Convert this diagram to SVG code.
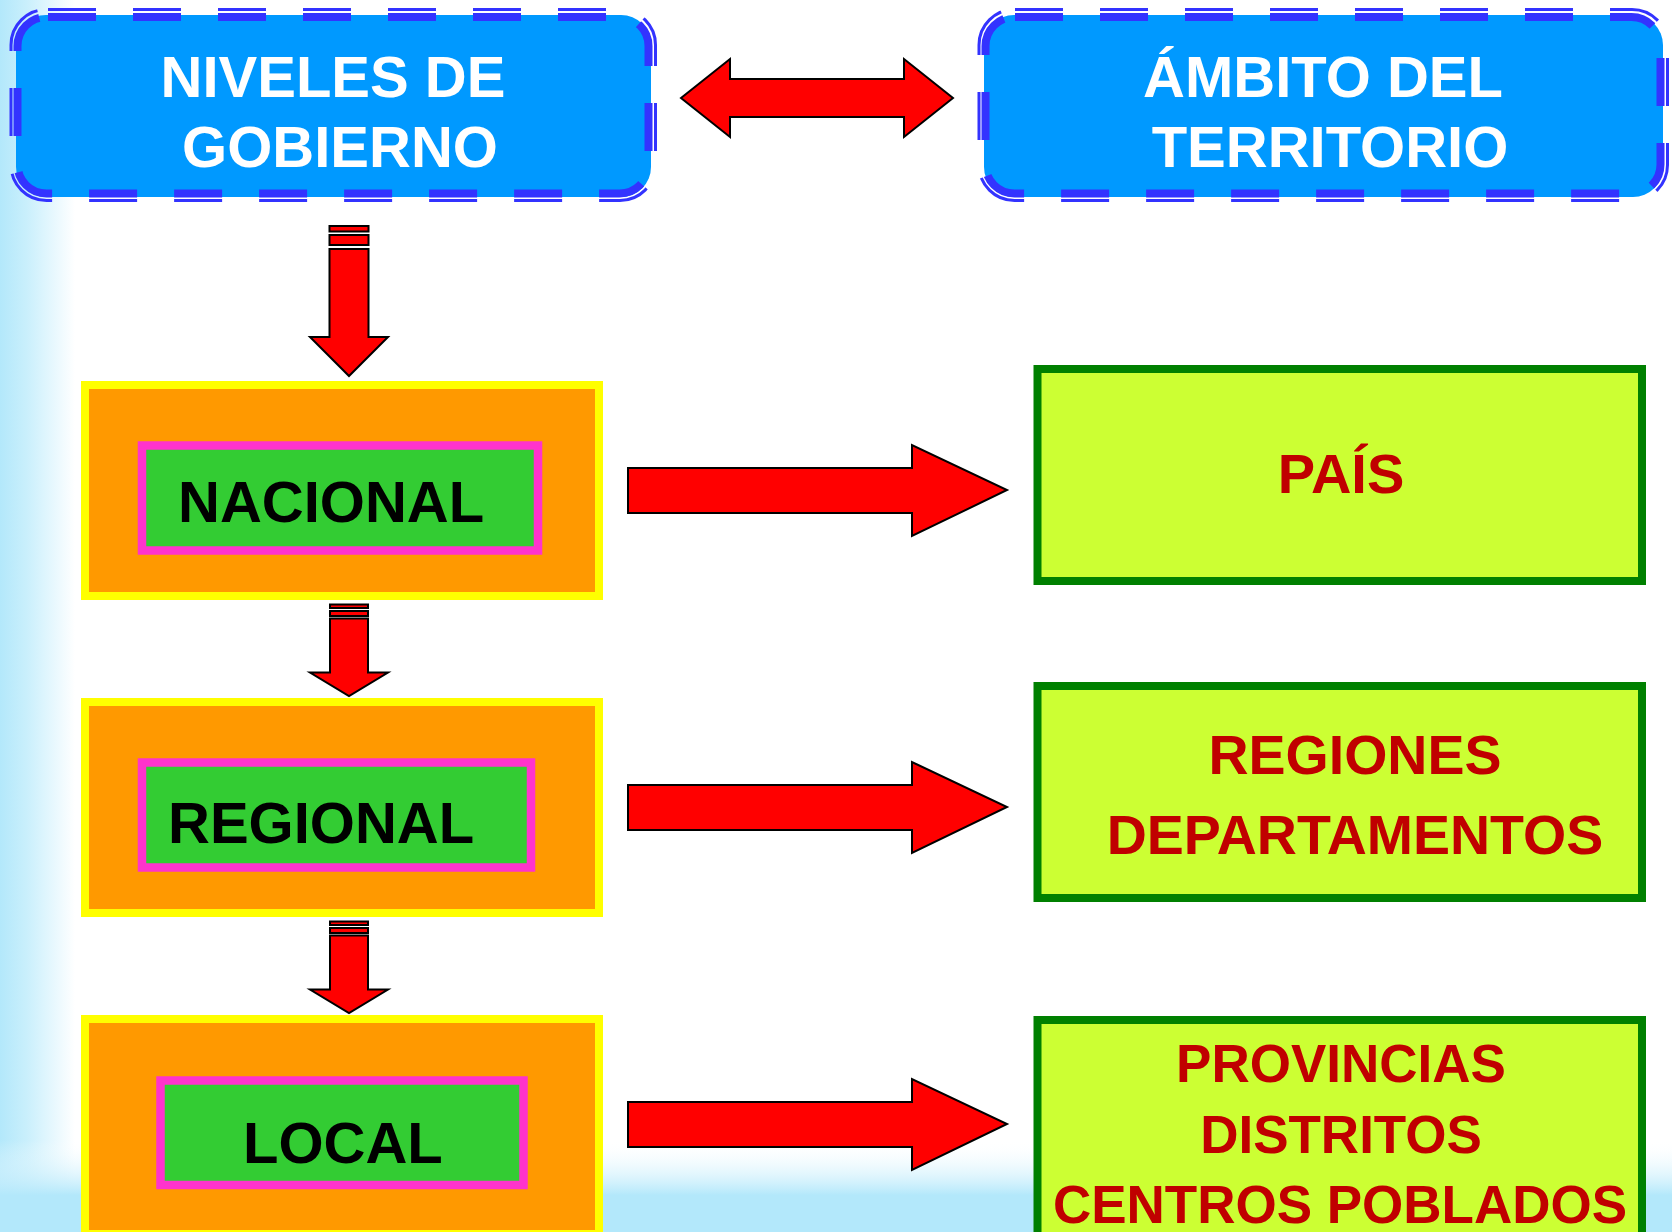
<svg xmlns="http://www.w3.org/2000/svg" width="1672" height="1232" viewBox="0 0 1672 1232">
<defs>
<linearGradient id="bgL" x1="0" y1="0" x2="1" y2="0">
<stop offset="0" stop-color="#b3e8fb"/>
<stop offset="0.35" stop-color="#c9effc"/>
<stop offset="1" stop-color="#ffffff"/>
</linearGradient>
<linearGradient id="bgB" x1="0" y1="0" x2="0" y2="1">
<stop offset="0" stop-color="#ffffff" stop-opacity="0"/>
<stop offset="0.6" stop-color="#b3e8fb"/>
<stop offset="1" stop-color="#b3e8fb"/>
</linearGradient>
<mask id="mL" maskUnits="userSpaceOnUse" x="0" y="0" width="1672" height="1232">
<rect x="14.25" y="13.25" width="637.75" height="183.75" rx="32" fill="none" stroke="#ffffff" stroke-width="18" stroke-dasharray="48 37" stroke-dashoffset="-1.75"/>
</mask>
<mask id="mR" maskUnits="userSpaceOnUse" x="0" y="0" width="1672" height="1232">
<rect x="982.25" y="13.25" width="681.75" height="183.75" rx="32" fill="none" stroke="#ffffff" stroke-width="18" stroke-dasharray="48 37" stroke-dashoffset="-0.75"/>
</mask>
<style>
.hdr{fill:#0099ff}
.dk{fill:none;stroke:#3333ff;stroke-width:8}
.dt{fill:none;stroke:#3333ff;stroke-width:3}
.ht{font-family:"Liberation Sans",Arial,sans-serif;font-weight:bold;font-size:58px;fill:#ffffff;text-anchor:middle}
.or{fill:#ff9900;stroke:#ffff00;stroke-width:8}
.gr{fill:#33cc33;stroke:#ff33cc;stroke-width:8.5}
.lt{font-family:"Liberation Sans",Arial,sans-serif;font-weight:bold;font-size:58px;fill:#000000}
.lm{fill:#ccff33;stroke:#008000;stroke-width:8}
.rt{font-family:"Liberation Sans",Arial,sans-serif;font-weight:bold;font-size:55.5px;fill:#c00000;text-anchor:middle}
.ar{fill:#ff0000;stroke:#000000;stroke-width:2;stroke-linejoin:miter}
</style>
</defs>
<rect x="0" y="0" width="1672" height="1232" fill="#ffffff"/>
<rect x="0" y="0" width="75" height="1232" fill="url(#bgL)"/>
<rect x="0" y="1140" width="1672" height="92" fill="url(#bgB)"/>

<g id="niveles">
<rect class="hdr" x="16" y="15" width="635" height="182" rx="30"/>
<g mask="url(#mL)">
<rect class="dt" x="11" y="9.5" width="644.5" height="191" rx="35.5"/>
<rect class="dk" x="17.5" y="17" width="631" height="176.5" rx="29"/>
</g>
<text class="ht" x="333" y="97">NIVELES DE</text>
<text class="ht" x="340" y="167">GOBIERNO</text>
</g>

<g id="ambito">
<rect class="hdr" x="984" y="15" width="679" height="182" rx="30"/>
<g mask="url(#mR)">
<rect class="dt" x="979" y="9.5" width="688.5" height="191" rx="35.5"/>
<rect class="dk" x="985.5" y="17" width="675" height="176.5" rx="29"/>
</g>
<text class="ht" x="1323" y="97">ÁMBITO DEL</text>
<text class="ht" x="1330" y="167">TERRITORIO</text>
</g>

<g id="nacional">
<rect class="or" x="85" y="385" width="514" height="211"/>
<rect class="gr" x="142" y="445.5" width="396" height="105"/>
<text class="lt" x="178" y="521.5">NACIONAL</text>
</g>

<g id="regional">
<rect class="or" x="85" y="702" width="514" height="211"/>
<rect class="gr" x="142" y="762.5" width="389" height="105"/>
<text class="lt" x="168" y="843">REGIONAL</text>
</g>

<g id="local">
<rect class="or" x="85" y="1019" width="514" height="215"/>
<rect class="gr" x="160.5" y="1080.5" width="363" height="104.5"/>
<text class="lt" x="243" y="1162.5">LOCAL</text>
</g>

<g id="pais">
<rect class="lm" x="1037.5" y="369" width="604.5" height="212"/>
<text class="rt" x="1341" y="492.5" style="font-size:56px">PAÍS</text>
</g>

<g id="regiones">
<rect class="lm" x="1037.5" y="686" width="604.5" height="212"/>
<text class="rt" x="1355" y="774">REGIONES</text>
<text class="rt" x="1355" y="854">DEPARTAMENTOS</text>
</g>

<g id="provincias">
<rect class="lm" x="1037.5" y="1020" width="604.5" height="216"/>
<text class="rt" x="1341" y="1081.5" style="font-size:53px">PROVINCIAS</text>
<text class="rt" x="1341" y="1153" style="font-size:53px">DISTRITOS</text>
<text class="rt" x="1340" y="1222.5" style="font-size:53px">CENTROS POBLADOS</text>
</g>

<g id="connectors">
<polygon class="ar" points="681,98 730,59 730,79 904,79 904,59 953,98 904,137 904,117 730,117 730,137"/>

<rect class="ar" x="329.5" y="226" width="39" height="5.5"/>
<rect class="ar" x="329.5" y="235" width="39" height="10"/>
<polygon class="ar" points="329.5,249 368.5,249 368.5,337 388,337 349,376 310,337 329.5,337"/>

<rect class="ar" x="330" y="604.5" width="38" height="3.5"/>
<rect class="ar" x="330" y="611" width="38" height="5"/>
<polygon class="ar" points="330,618.5 368,618.5 368,672.5 388,672.5 349,696 310,672.5 330,672.5"/>

<rect class="ar" x="330" y="921.5" width="38" height="3.5"/>
<rect class="ar" x="330" y="928" width="38" height="5"/>
<polygon class="ar" points="330,935.5 368,935.5 368,989.5 388,989.5 349,1013 310,989.5 330,989.5"/>

<polygon class="ar" points="628,468 912,468 912,445 1007,490 912,536 912,513 628,513"/>
<polygon class="ar" points="628,785 912,785 912,762 1007,807 912,853 912,830 628,830"/>
<polygon class="ar" points="628,1102 912,1102 912,1079 1007,1124 912,1170 912,1147 628,1147"/>
</g>
</svg>
